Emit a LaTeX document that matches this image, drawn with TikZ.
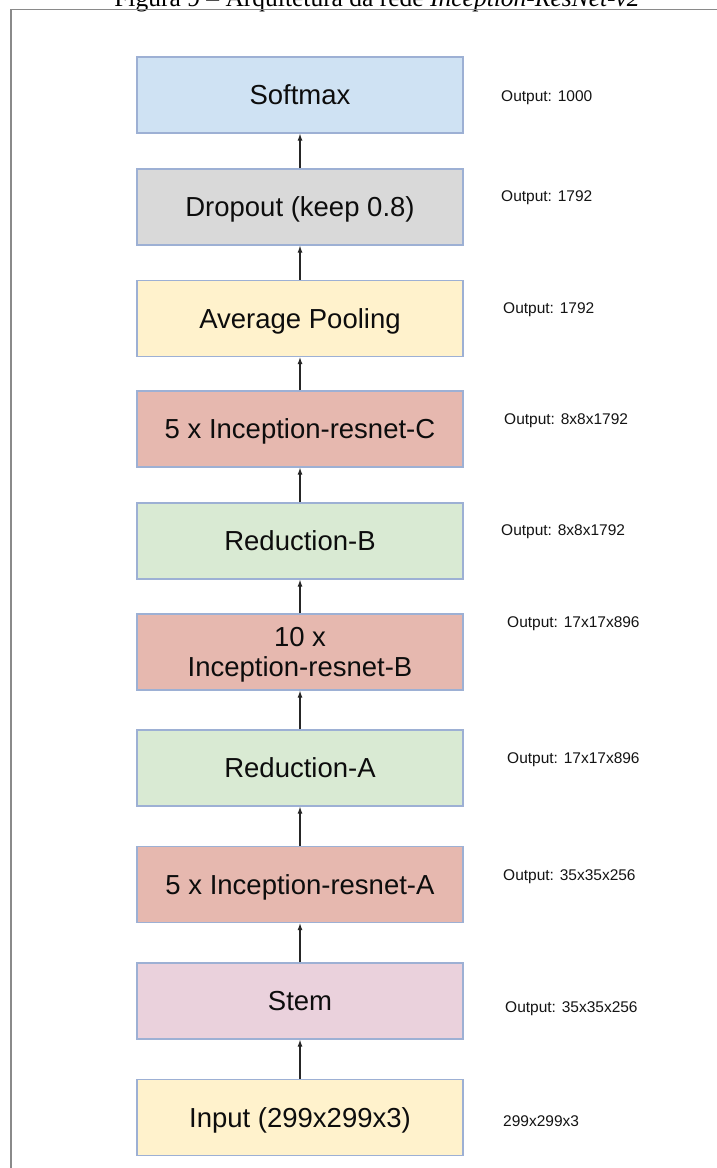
\documentclass[tikz,border=0pt]{standalone}
\usepackage{fontspec}
\setmainfont{Liberation Sans}
\newfontfamily\captionserif[Ligatures=TeX]{Liberation Serif}
\usetikzlibrary{arrows.meta}

\definecolor{bordc}{HTML}{9DB0D4}
\definecolor{cblue}{HTML}{CFE2F3}
\definecolor{cgray}{HTML}{D9D9D9}
\definecolor{cyellow}{HTML}{FFF2CC}
\definecolor{csalmon}{HTML}{E6B8AF}
\definecolor{cgreen}{HTML}{D9EAD3}
\definecolor{cmauve}{HTML}{EAD1DC}
\definecolor{framec}{HTML}{8A8A8A}

\newcommand{\lowerline}[1]{\raisebox{-3pt}[\height][\depth]{#1}}

\tikzset{
  layer/.style={draw=bordc, line width=1.2pt, minimum width=326pt, minimum height=76pt,
    inner sep=0pt, align=center, text=black!95,
    font=\fontsize{27.5}{30}\selectfont},
  onerow/.style={text height=19.7pt, text depth=0pt},
  outlabel/.style={anchor=base west, inner sep=0pt, text=black!92,
    font=\fontsize{15.5}{18}\selectfont},
  flow/.style={line width=1.1pt, draw=black!85, -{Latex[length=7pt,width=5pt]}},
}

\begin{document}
\begin{tikzpicture}[x=1pt, y=-1pt]
  \useasboundingbox (0,0) rectangle (717,1168);
  \fill[white] (0,0) rectangle (717,1168);

  % caption line, partly above the page edge
  \node[anchor=base, inner sep=0pt, font=\captionserif\fontsize{25.5}{28}\selectfont]
    (caption) at (377,6) {Figura 9 – Arquitetura da rede \textit{Inception-ResNet-v2}};

  % open frame round the figure
  \draw[framec, line width=1.4pt] (11,1175) -- (11,9.5) -- (725,9.5);

  % network layers, top to bottom
  \node[layer, onerow, fill=cblue]   (soft) at (300,95)    {Softmax};
  \node[layer, onerow, fill=cgray]   (drop) at (300,207)   {Dropout (keep 0.8)};
  \node[layer, onerow, fill=cyellow] (pool) at (300,318.5) {Average Pooling};
  \node[layer, onerow, fill=csalmon] (irc)  at (300,429)   {5 x Inception-resnet-C};
  \node[layer, onerow, fill=cgreen]  (redb) at (300,541)   {Reduction-B};
  \node[layer, fill=csalmon]         (irb)  at (300,652)
    {\lowerline{10 x}\\\lowerline{Inception-resnet-B}};
  \node[layer, onerow, fill=cgreen]  (reda) at (300,768)   {Reduction-A};
  \node[layer, onerow, fill=csalmon] (ira)  at (300,884.5) {5 x Inception-resnet-A};
  \node[layer, onerow, fill=cmauve]  (stem) at (300,1001)  {Stem};
  \node[layer, onerow, fill=cyellow] (inp)  at (300,1117.5){Input (299x299x3)};

  % data flow
  \draw[flow] (inp)  -- (stem);
  \draw[flow] (stem) -- (ira);
  \draw[flow] (ira)  -- (reda);
  \draw[flow] (reda) -- (irb);
  \draw[flow] (irb)  -- (redb);
  \draw[flow] (redb) -- (irc);
  \draw[flow] (irc)  -- (pool);
  \draw[flow] (pool) -- (drop);
  \draw[flow] (drop) -- (soft);

  % output shapes
  \node[outlabel] (osoft) at (501,101.5)  {Output: 1000};
  \node[outlabel] (odrop) at (501,201.5)  {Output: 1792};
  \node[outlabel] (opool) at (503,313.5)  {Output: 1792};
  \node[outlabel] (oirc)  at (504,424.5)  {Output: 8x8x1792};
  \node[outlabel] (oredb) at (501,535.5)  {Output: 8x8x1792};
  \node[outlabel] (oirb)  at (507,627.5)  {Output: 17x17x896};
  \node[outlabel] (oreda) at (507,763.5)  {Output: 17x17x896};
  \node[outlabel] (oira)  at (503,880.5)  {Output: 35x35x256};
  \node[outlabel] (ostem) at (505,1012.5) {Output: 35x35x256};
  \node[outlabel] (oinp)  at (503,1126.5) {299x299x3};
\end{tikzpicture}
\end{document}
